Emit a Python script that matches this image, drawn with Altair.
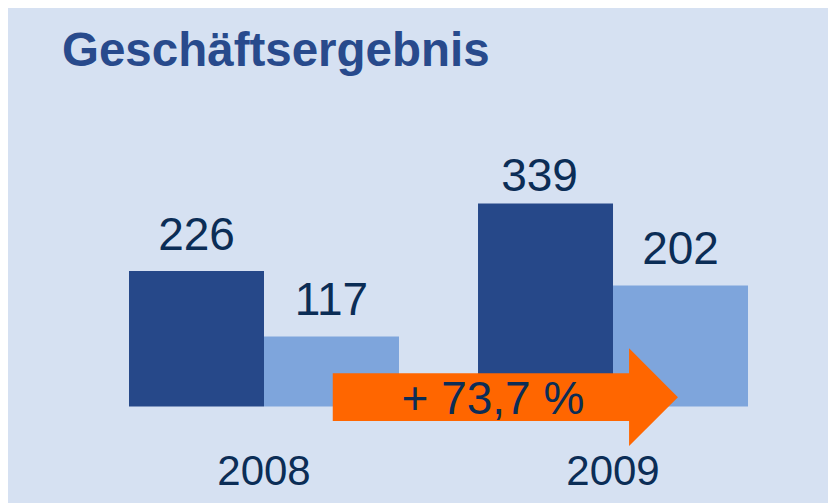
import altair as alt
import pandas as pd

# ---- data ----
years = ["2008", "2009"]
series = ["A", "B"]
values_2008 = [226, 117]
values_2009 = [339, 202]
title_text = "Geschäftsergebnis"
growth_label = "+ 73,7 %"

rows = []
for gi, (yr, vals) in enumerate(zip(years, [values_2008, values_2009])):
    for si, (s, v) in enumerate(zip(series, vals)):
        rows.append({"year": yr, "gi": gi, "series": s, "si": si, "value": v})
df = pd.DataFrame(rows)
df_years = pd.DataFrame({"year": years, "gi": list(range(len(years)))})

# ---- styling / layout ----
BG = "#d6e1f2"
DARK = "#264889"
LIGHT = "#7ea5dc"
NAVY = "#0b2d56"
ORANGE = "#ff6600"
FONT = "Liberation Sans"
BW = 0.3868  # bar width in group units

W, H, TOP = 820, 395, 100
y_scale = alt.Scale(domain=[-161.1, 498.3], nice=False, zero=False)
x_scale = alt.Scale(domain=[-0.7335, 1.616], nice=False, zero=False)

base = alt.Chart(df).transform_calculate(
    x0=f"datum.gi + (datum.si - 1) * {BW}",
    x1=f"datum.gi + datum.si * {BW}",
    xc=f"datum.gi + (datum.si - 0.5) * {BW}",
)

bars = base.mark_rect(strokeWidth=0).encode(
    x=alt.X("x0:Q", scale=x_scale, axis=None),
    x2="x1:Q",
    y=alt.Y("value:Q", scale=y_scale, axis=None),
    y2=alt.datum(0),
    color=alt.Color("series:N", scale=alt.Scale(domain=series, range=[DARK, LIGHT]), legend=None),
)

lab_kw = dict(font=FONT, fontSize=46, color=NAVY, baseline="alphabetic", align="center")
labels_lo = base.transform_filter("datum.value <= 300").mark_text(dy=-21, **lab_kw).encode(
    x=alt.X("xc:Q", scale=x_scale), y=alt.Y("value:Q", scale=y_scale), text="value:Q")
labels_hi = base.transform_filter("datum.value > 300").mark_text(dy=-12, dx=-6, **lab_kw).encode(
    x=alt.X("xc:Q", scale=x_scale), y=alt.Y("value:Q", scale=y_scale), text="value:Q")

year_labels = alt.Chart(df_years).mark_text(font=FONT, fontSize=42, color=NAVY,
                                             baseline="alphabetic", align="center").encode(
    x=alt.X("gi:Q", scale=x_scale),
    y=alt.datum(-131),
    text="year:N",
)

# ---- growth arrow (annotation) ----
arrow_body = pd.DataFrame({"x": [0.197], "x2": [1.05], "y": [55.4], "y2": [-24.2]})
arrow_head = pd.DataFrame({"x": [1.046, 1.186], "y": [97.2, 15.4], "y2": [-65.9, 15.4]})
arrow_text = pd.DataFrame({"x": [0.656], "y": [-12.5], "t": [growth_label]})

body = alt.Chart(arrow_body).mark_rect(color=ORANGE).encode(
    x=alt.X("x:Q", scale=x_scale), x2="x2:Q",
    y=alt.Y("y:Q", scale=y_scale), y2="y2:Q",
)
head = alt.Chart(arrow_head).mark_area(color=ORANGE, opacity=1).encode(
    x=alt.X("x:Q", scale=x_scale),
    y=alt.Y("y:Q", scale=y_scale), y2="y2:Q",
)
atext = alt.Chart(arrow_text).mark_text(font=FONT, fontSize=46, color=NAVY,
                                        baseline="alphabetic", align="center").encode(
    x=alt.X("x:Q", scale=x_scale),
    y=alt.Y("y:Q", scale=y_scale),
    text="t:N",
)

chart = alt.layer(bars, labels_lo, labels_hi, year_labels, body, head, atext).properties(
    width=W, height=H,
    background=BG,
    padding={"left": 0, "right": 0, "top": TOP, "bottom": 0},
    autosize=alt.AutoSizeParams(type="none"),
    title=alt.TitleParams(title_text, anchor="start", frame="group", font=FONT,
                          fontSize=47.5, fontWeight="bold", color="#284a8c",
                          baseline="alphabetic", offset=-5, dx=54),
).configure_view(stroke=None, fill=BG)

chart.save("out.html", embed_options={"renderer": "svg", "actions": False})
